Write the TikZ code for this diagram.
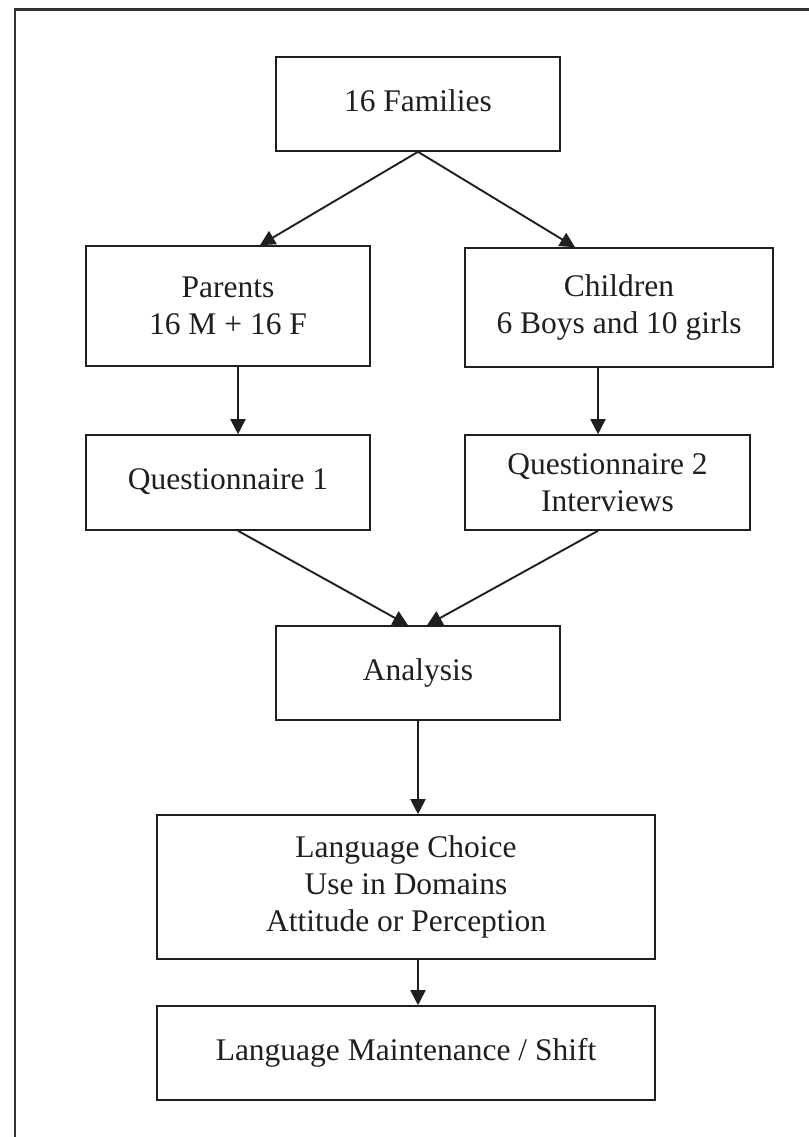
\documentclass[tikz,border=0pt]{standalone}
\usepackage{fontspec}
\setmainfont{Liberation Serif}
\usetikzlibrary{arrows.meta,calc}
\tikzset{
  box/.style={draw=black!88, line width=1.6pt, inner sep=0pt, align=center,
    font=\fontsize{31.5}{37}\selectfont, text=black!88},
  conn/.style={draw=black!88, line width=1.9pt,
    -{Triangle[length=15pt,width=15pt]}},
  frame/.style={draw=black!80, line width=2.6pt}
}
\begin{document}
\begin{tikzpicture}[x=1pt,y=-1pt]
\useasboundingbox (0,0) rectangle (808,1137);
\draw[frame] (810,9.5) -- (15,9.5) -- (15,1140);
\node[box, minimum width=284pt, minimum height=94pt] (fam) at (418,104) {16 Families\vphantom{g}};
\node[box, minimum width=284pt, minimum height=120pt] (par) at (228,306) {Parents\\16 M + 16 F};
\node[box, minimum width=308pt, minimum height=119pt] (chi) at (619,307.5) {Children\\6 Boys and 10 girls};
\node[box, minimum width=284pt, minimum height=95pt] (q1) at (228,482.5) {Questionnaire 1\vphantom{g}};
\node[box, minimum width=285pt, minimum height=95pt] (q2) at (607.5,482.5) {Questionnaire 2\\Interviews};
\node[box, minimum width=284pt, minimum height=94pt] (ana) at (418,673) {Analysis};
\node[box, minimum width=498pt, minimum height=144pt] (lc) at (406,887) {Language Choice\\Use in Domains\\Attitude or Perception};
\node[box, minimum width=498pt, minimum height=94pt] (lm) at (406,1053) {Language Maintenance / Shift};
\draw[conn] (fam.south) -- ([xshift=32pt]par.north);
\draw[conn] (fam.south) -- ([xshift=-44pt]chi.north);
\draw[conn] ([xshift=10pt]par.south) -- ([xshift=10pt]q1.north);
\draw[conn] ([xshift=-21pt]chi.south) -- ([xshift=-9.5pt]q2.north);
\draw[conn] ([xshift=10pt]q1.south) -- ([xshift=-10pt]ana.north);
\draw[conn] ([xshift=-9.5pt]q2.south) -- ([xshift=9pt]ana.north);
\draw[conn] (ana.south) -- (ana.south |- lc.north);
\draw[conn] ([xshift=12pt]lc.south) -- ([xshift=12pt]lm.north);
\end{tikzpicture}
\end{document}
